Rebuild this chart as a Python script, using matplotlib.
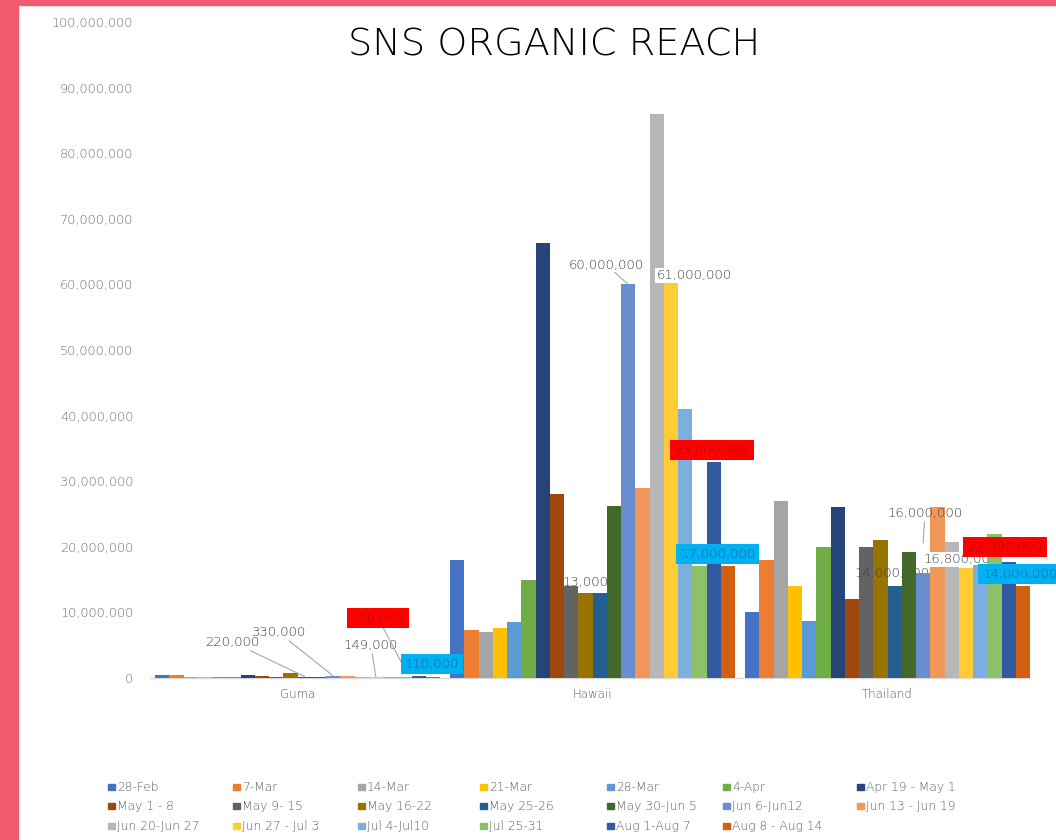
import matplotlib
matplotlib.use("Agg")
import matplotlib.pyplot as plt
from matplotlib.patches import Rectangle
from matplotlib.ticker import FuncFormatter
from matplotlib import font_manager
import numpy as np

# ---- data -------------------------------------------------------------
regions = ["Guma", "Hawaii", "Thailand"]

periods = [
    "28-Feb", "7-Mar", "14-Mar", "21-Mar", "28-Mar", "4-Apr", "Apr 19 - May 1",
    "May 1 - 8", "May 9- 15", "May 16-22", "May 25-26", "May 30-Jun 5",
    "Jun 6-Jun12", "Jun 13 - Jun 19", "Jun 20-Jun 27", "Jun 27 - Jul 3",
    "Jul 4-Jul10", "Jul 25-31", "Aug 1-Aug 7", "Aug 8 - Aug 14",
]

colors = [
    "#4472C4", "#ED7D31", "#A5A5A5", "#FFC000", "#5B9BD5", "#70AD47", "#264478",
    "#9E480E", "#636363", "#997300", "#255E91", "#43682B", "#698ED0", "#F1975A",
    "#B7B7B7", "#FFCD33", "#7CAFDD", "#8CC168", "#335AA1", "#D26012",
]

guma = [500000, 400000, 200000, 150000, 100000, 200000, 450000,
        250000, 150000, 800000, 220000, 150000, 330000, 250000,
        120000, 149000, 150000, 100000, 300000, 110000]

hawaii = [18000000, 7300000, 7000000, 7600000, 8500000, 15000000, 66300000,
          28000000, 14000000, 13000000, 13000000, 26200000, 60000000, 29000000,
          86000000, 61000000, 41000000, 17000000, 33000000, 17000000]

thailand = [10000000, 18000000, 27000000, 14000000, 8700000, 20000000, 26000000,
            12000000, 20000000, 21000000, 14000000, 19200000, 16000000, 26000000,
            20700000, 16800000, 17200000, 22000000, 17700000, 14000000]

# ---- figure -----------------------------------------------------------
W, H = 1056, 840
fig = plt.figure(figsize=(W / 100, H / 100), dpi=100)
fig.patch.set_facecolor("white")

FONT = "DejaVu Sans"
avail = {f.name + str(f.weight) for f in font_manager.fontManager.ttflist}
WEIGHT = "light" if any(k.startswith("DejaVu Sans") and ("200" in k or "light" in k.lower())
                        for k in avail) else "normal"
TICK_GREY = "#6E6E6E"
LABEL_GREY = "#3F3F3F"

# frame strips along the top and left edge
border = "#F05C6E"
fig.patches.append(Rectangle((0, 1 - 5 / H), 1, 5 / H, transform=fig.transFigure,
                             color=border, zorder=10))
fig.patches.append(Rectangle((0, 0), 18 / W, 1, transform=fig.transFigure,
                             color=border, zorder=10))

ax = fig.add_axes([150 / W, 162 / H, 880 / W, 656 / H])

x = np.arange(len(regions))
n = len(periods)
w = 14.25 / 295
values = np.array([guma, hawaii, thailand])


def series_z(i):
    # each series sits above the ones before it; its labels share its layer
    return 3 + i * 0.1


for i, (p, c) in enumerate(zip(periods, colors)):
    ax.bar(x + (i - (n - 1) / 2) * w, values[:, i], w, color=c, zorder=series_z(i),
           linewidth=0)

ax.set_xlim(-0.5, 2.483)
ax.set_ylim(0, 100e6)
ax.set_yticks(np.arange(0, 100e6 + 1, 10e6))
ax.yaxis.set_major_formatter(FuncFormatter(lambda v, _: f"{int(v):,}"))
ax.set_xticks(x)
ax.set_xticklabels(regions)
for s in ["top", "right", "left"]:
    ax.spines[s].set_visible(False)
ax.spines["bottom"].set_color("#D9D9D9")
ax.spines["bottom"].set_linewidth(1.0)
ax.tick_params(axis="both", length=0)
ax.tick_params(axis="y", pad=12)
ax.tick_params(axis="x", pad=7)
for lab in ax.get_yticklabels():
    lab.set_fontfamily(FONT)
    lab.set_fontweight(WEIGHT)
    lab.set_fontsize(9.3)
    lab.set_color(TICK_GREY)
for lab in ax.get_xticklabels():
    lab.set_fontfamily(FONT)
    lab.set_fontweight(WEIGHT)
    lab.set_fontsize(8.5)
    lab.set_color("#5A5A5A")


def bar_x(region, i):
    return region + (i - (n - 1) / 2) * w


lead = dict(arrowstyle="-", color="#A6A6A6", lw=0.8, shrinkA=0, shrinkB=0)
txt = dict(fontfamily=FONT, fontweight=WEIGHT, fontsize=9.5, color=LABEL_GREY,
           ha="center", va="center")
white_box = dict(boxstyle="square,pad=0.1", fc="white", ec="none")
red_box = dict(boxstyle="square,pad=0.3", fc="#FF0000", ec="none")
blue_box = dict(boxstyle="square,pad=0.3", fc="#00B0F0", ec="none")
red_txt = {**txt, "color": "#B00000"}
blue_txt = {**txt, "color": "#1A5E9E"}
TOP = 6

# Guma
ax.annotate(f"{guma[10]:,}", xy=(bar_x(0, 10), guma[10]), xytext=(-0.222, 5.5e6),
            arrowprops=lead, zorder=TOP, **txt)
ax.annotate(f"{guma[12]:,}", xy=(bar_x(0, 12), guma[12]), xytext=(-0.066, 7.0e6),
            arrowprops=lead, zorder=TOP, **txt)
ax.annotate(f"{guma[15]:,}", xy=(bar_x(0, 15), guma[15]), xytext=(0.249, 5.0e6),
            arrowprops=lead, zorder=TOP, **txt)
ax.annotate(f"{guma[17]:,}", xy=(bar_x(0, 17), guma[17] + 1.4e6), xytext=(0.273, 9.15e6),
            arrowprops=lead, bbox=red_box, zorder=TOP, **red_txt)
ax.annotate(f"{guma[19]:,}", xy=(0.456, 2.13e6), bbox=blue_box, zorder=TOP, **blue_txt)

# Hawaii
ax.annotate(f"{hawaii[12]:,}", xy=(bar_x(1, 12), hawaii[12]), xytext=(1.047, 63e6),
            arrowprops=lead, bbox=white_box, zorder=series_z(12) + 0.05, **txt)
ax.annotate(f"{hawaii[15]:,}", xy=(1.345, 61.4e6), bbox=white_box,
            zorder=series_z(15) + 0.05, **txt)
ax.annotate(f"{hawaii[10]:,}", xy=(1.025, 14.6e6), zorder=series_z(10) + 0.05, **txt)
ax.annotate(f"{hawaii[18]:,}", xy=(1.405, 34.8e6), bbox=red_box, zorder=TOP, **red_txt)
ax.annotate(f"{hawaii[17]:,}", xy=(1.425, 18.9e6), bbox=blue_box, zorder=TOP, **blue_txt)

# Thailand
ax.annotate(f"{thailand[10]:,}", xy=(2.015, 16.0e6), zorder=series_z(10) + 0.05, **txt)
ax.annotate(f"{thailand[12]:,}", xy=(bar_x(2, 12), 20.6e6), xytext=(2.127, 25.15e6),
            arrowprops=lead, zorder=TOP - 0.5, **txt)
ax.annotate(f"{thailand[15]:,}", xy=(2.250, 18.1e6), bbox=white_box,
            zorder=series_z(15) + 0.05, **txt)
ax.annotate(f"{thailand[17]:,}", xy=(2.398, 19.9e6), bbox=red_box, zorder=TOP, **red_txt)
ax.annotate(f"{thailand[19]:,}", xy=(2.448, 15.85e6), bbox=blue_box, zorder=TOP,
            annotation_clip=False, **blue_txt)

# title
fig.text(554 / W, 1 - 45 / H, "SNS ORGANIC REACH", fontfamily=FONT, fontweight=WEIGHT,
         fontsize=27.5, color="#000000", ha="center", va="center")

# legend: seven entries per row
col_x = [108, 233, 358, 480, 607, 723, 857]
row_y = [787, 806, 826]
for i, (p, c) in enumerate(zip(periods, colors)):
    r, k = divmod(i, 7)
    px, py = col_x[k], row_y[r]
    fig.patches.append(Rectangle((px / W, 1 - (py + 3) / H), 7 / W, 6 / H,
                                 transform=fig.transFigure, color=c))
    fig.text((px + 9) / W, 1 - py / H, p, fontfamily=FONT, fontweight=WEIGHT,
             fontsize=8.8, color="#5E5E5E", ha="left", va="center")

fig.savefig("out.png", dpi=100, facecolor="white")
